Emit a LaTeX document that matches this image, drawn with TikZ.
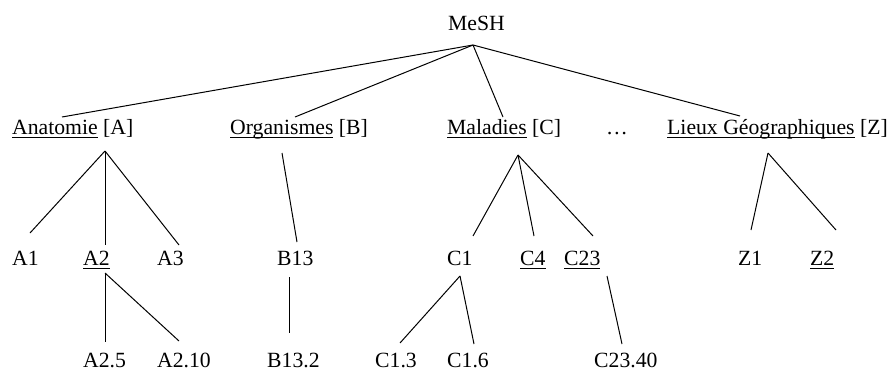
\documentclass[tikz,border=0pt]{standalone}
\usepackage{fontspec}
\setmainfont{Liberation Serif}
\newcommand{\ulw}[1]{\setbox0\hbox{#1}\rlap{\rule[-3.5pt]{\wd0}{1pt}}\box0\relax}
\begin{document}
\begin{tikzpicture}[x=1pt,y=-1pt,
  lbl/.style={anchor=base west, inner sep=0pt, font=\fontsize{21.7}{26}\selectfont},
  link/.style={line width=1pt, black}]
\useasboundingbox (0,0) rectangle (893,372);
% labels
\node[lbl] (mesh) at (448,30) {MeSH};
\node[lbl] (anat) at (12,134) {\ulw{Anatomie} [A]};
\node[lbl] (org) at (230,134) {\ulw{Organismes} [B]};
\node[lbl] (mal) at (447,134) {\ulw{Maladies} [C]};
\node[lbl] (dots) at (606,134) {…};
\node[lbl] (lieux) at (667,134) {\ulw{Lieux Géographiques} [Z]};
\node[lbl] (a1) at (12,265) {A1};
\node[lbl] (a2) at (83,265) {\ulw{A2}};
\node[lbl] (a3) at (157,265) {A3};
\node[lbl] (b13) at (277,265) {B13};
\node[lbl] (c1) at (447,265) {C1};
\node[lbl] (c4) at (520,265) {\ulw{C4}};
\node[lbl] (c23) at (564,265) {\ulw{C23}};
\node[lbl] (z1) at (738,265) {Z1};
\node[lbl] (z2) at (810,265) {\ulw{Z2}};
\node[lbl] (a25) at (83,367) {A2.5};
\node[lbl] (a210) at (157,367) {A2.10};
\node[lbl] (b132) at (267,367) {B13.2};
\node[lbl] (c13) at (375,367) {C1.3};
\node[lbl] (c16) at (447,367) {C1.6};
\node[lbl] (c2340) at (594,367) {C23.40};
% connector end points
\coordinate (meshP) at (473,45);
\coordinate (anatIn) at (62,117);
\coordinate (orgIn) at (295,117);
\coordinate (malIn) at (503,117);
\coordinate (lieuxIn) at (740,116);
\coordinate (anatOut) at (105,151);
\coordinate (a1In) at (30,233);
\coordinate (a2In) at (105,245);
\coordinate (a3In) at (179,245);
\coordinate (orgOut) at (282,153);
\coordinate (b13In) at (297,242);
\coordinate (a2Out) at (105,273);
\coordinate (a25In) at (105,342);
\coordinate (a210In) at (179,341);
\coordinate (b13Out) at (289,277);
\coordinate (b132In) at (289,333);
\coordinate (malOut) at (518,155);
\coordinate (c1In) at (473,236);
\coordinate (c4In) at (534,236);
\coordinate (c23In) at (593,236);
\coordinate (c1Out) at (460,276);
\coordinate (c13In) at (400,343);
\coordinate (c16In) at (474,344);
\coordinate (c23Out) at (607,276);
\coordinate (c2340In) at (622,344);
\coordinate (lieuxOut) at (768,153);
\coordinate (z1In) at (751,230);
\coordinate (z2In) at (836,230);
% connectors
\draw[link] (meshP) -- (anatIn);
\draw[link] (meshP) -- (orgIn);
\draw[link] (meshP) -- (malIn);
\draw[link] (meshP) -- (lieuxIn);
\draw[link] (anatOut) -- (a1In);
\draw[link] (anatOut) -- (a2In);
\draw[link] (anatOut) -- (a3In);
\draw[link] (orgOut) -- (b13In);
\draw[link] (a2Out) -- (a25In);
\draw[link] (a2Out) -- (a210In);
\draw[link] (b13Out) -- (b132In);
\draw[link] (malOut) -- (c1In);
\draw[link] (malOut) -- (c4In);
\draw[link] (malOut) -- (c23In);
\draw[link] (c1Out) -- (c13In);
\draw[link] (c1Out) -- (c16In);
\draw[link] (c23Out) -- (c2340In);
\draw[link] (lieuxOut) -- (z1In);
\draw[link] (lieuxOut) -- (z2In);
\end{tikzpicture}
\end{document}
